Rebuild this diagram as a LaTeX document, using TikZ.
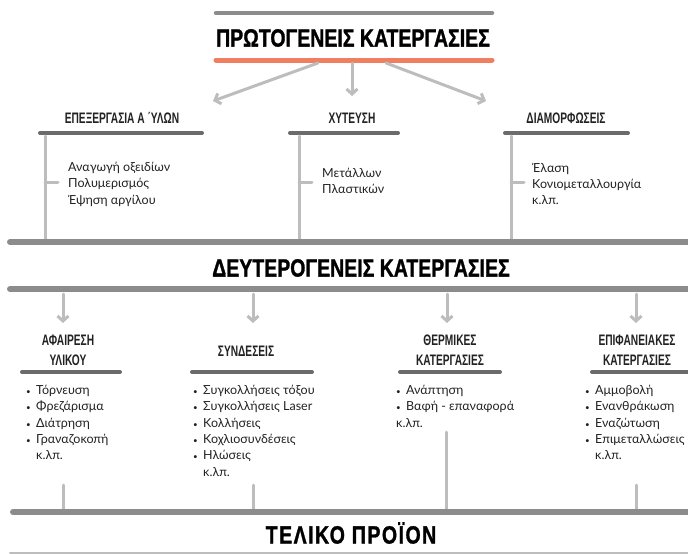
\documentclass[tikz,border=0pt]{standalone}
\usepackage{fontspec}
\setmainfont{Lato}
\newfontfamily\titlefont{Liberation Sans Bold}[FakeStretch=0.78,FakeBold=1.2]
\newfontfamily\headfont{Liberation Sans Bold}[FakeStretch=0.67]
\usetikzlibrary{arrows.meta}
\definecolor{lineDark}{HTML}{6B6B6B}
\definecolor{lineMid}{HTML}{8C8C8C}
\definecolor{lineLight}{HTML}{BDBDBD}
\definecolor{lineOrange}{HTML}{EF7F60}
\definecolor{txt}{HTML}{222222}
\newcommand{\itm}[1]{\makebox[10pt][l]{\footnotesize\textbullet}#1}
\newcommand{\etc}{\hspace*{10pt}κ.λπ.}
\tikzset{
	titletext/.style={font=\titlefont\fontsize{25}{25}\selectfont,text=black,inner sep=0pt},
	headtext/.style={font=\headfont\fontsize{15.2}{20}\selectfont,text=txt,align=center,inner sep=0pt},
	listtext/.style={font=\fontsize{12.5}{16.3}\selectfont,text=txt,align=left,anchor=north west,inner sep=0pt},
	bigline/.style={lineMid,line width=6pt},
	underline/.style={lineDark,line width=4pt},
	thinline/.style={lineLight,line width=3pt},
	arr/.style={lineLight,line width=3pt,-{Straight Barb[length=5pt,width=11pt]}}
}
\begin{document}
\begin{tikzpicture}[x=1pt,y=-1pt,line join=round,line cap=round]
	\useasboundingbox (0,0) rectangle (688,554);
	\clip (0,0) rectangle (688,554);
	% === Πρωτογενείς κατεργασίες ===
	\draw[lineMid,line width=4.5pt] (216,13) -- (492,13);
	\node[titletext] (prot) at (353,38) {ΠΡΩΤΟΓΕΝΕΙΣ ΚΑΤΕΡΓΑΣΙΕΣ};
	\draw[lineOrange,line width=5pt] (216,60) -- (492,60);
	\coordinate (o1) at (318,63);
	\coordinate (o2) at (352,63);
	\coordinate (o3) at (386,63);
	\node[headtext] (epex) at (122,118) {ΕΠΕΞΕΡΓΑΣΙΑ Α ΄ΥΛΩΝ};
	\node[headtext] (xyt) at (352,118) {ΧΥΤΕΥΣΗ};
	\node[headtext] (diam) at (566,118) {ΔΙΑΜΟΡΦΩΣΕΙΣ};
	\coordinate (e1) at (213,101);
	\coordinate (e2) at (352,96);
	\coordinate (e3) at (486,101);
	\draw[arr] (o1) -- (e1);
	\draw[arr] (o2) -- (e2);
	\draw[arr] (o3) -- (e3);
	\draw[underline] (40,133) -- (202,133);
	\draw[underline] (290,133) -- (398,133);
	\draw[underline] (505,133) -- (628,133);
	\draw[thinline] (45,136) -- (45,242) (45,182) -- (58,182);
	\draw[thinline] (299,136) -- (299,242) (299,182) -- (312,182);
	\draw[thinline] (511,136) -- (511,242) (511,182) -- (524,182);
	\node[listtext] (l1) at (68,162) {Αναγωγή οξειδίων\\Πολυμερισμός\\Έψηση αργίλου};
	\node[listtext] (l2) at (322,168) {Μετάλλων\\Πλαστικών};
	\node[listtext] (l3) at (532,163) {Έλαση\\Κονιομεταλλουργία\\κ.λπ.};
	% === Δευτερογενείς κατεργασίες ===
	\draw[bigline] (10,242) -- (700,242);
	\node[titletext] (deut) at (361,268) {ΔΕΥΤΕΡΟΓΕΝΕΙΣ ΚΑΤΕΡΓΑΣΙΕΣ};
	\draw[bigline] (10,289) -- (700,289);
	\foreach \x/\n in {63/a,253/b,447/c,636/d}{
		\coordinate (t\n) at (\x,294);
		\coordinate (h\n) at (\x,323);
		\draw[arr] (t\n) -- (h\n);
	}
	\node[headtext] (afair) at (68,350) {ΑΦΑΙΡΕΣΗ\\ΥΛΙΚΟΥ};
	\node[headtext] (synd) at (246,351) {ΣΥΝΔΕΣΕΙΣ};
	\node[headtext] (therm) at (450,350) {ΘΕΡΜΙΚΕΣ\\ΚΑΤΕΡΓΑΣΙΕΣ};
	\node[headtext] (epif) at (637,350) {ΕΠΙΦΑΝΕΙΑΚΕΣ\\ΚΑΤΕΡΓΑΣΙΕΣ};
	\draw[underline] (22,372) -- (120,372);
	\draw[underline] (192,372) -- (312,372);
	\draw[underline] (400,372) -- (500,372);
	\draw[underline] (592,372) -- (700,372);
	\node[listtext] (m1) at (26,385) {\itm{Τόρνευση}\\\itm{Φρεζάρισμα}\\\itm{Διάτρηση}\\\itm{Γραναζοκοπή}\\\etc};
	\node[listtext] (m2) at (193,385) {\itm{Συγκολλήσεις τόξου}\\\itm{Συγκολλήσεις Laser}\\\itm{Κολλήσεις}\\\itm{Κοχλιοσυνδέσεις}\\\itm{Ηλώσεις}\\\etc};
	\node[listtext] (m3) at (396,385) {\itm{Ανάπτηση}\\\itm{Βαφή - επαναφορά}\\κ.λπ.};
	\node[listtext] (m4) at (585,385) {\itm{Αμμοβολή}\\\itm{Ενανθράκωση}\\\itm{Εναζώτωση}\\\itm{Επιμεταλλώσεις}\\\etc};
	% === Τελικό προϊόν ===
	\draw[thinline] (63,485) -- (63,511);
	\draw[thinline] (253,485) -- (253,511);
	\draw[thinline] (446,432) -- (446,511);
	\draw[thinline] (636,485) -- (636,511);
	\draw[bigline] (13,512) -- (700,512);
	\node[titletext] (telos) at (351,533) {\addfontfeature{LetterSpace=6}ΤΕΛΙΚΟ ΠΡΟΪΟΝ};
	\draw[lineLight,line width=2pt] (10,553) -- (700,553);
\end{tikzpicture}
\end{document}
